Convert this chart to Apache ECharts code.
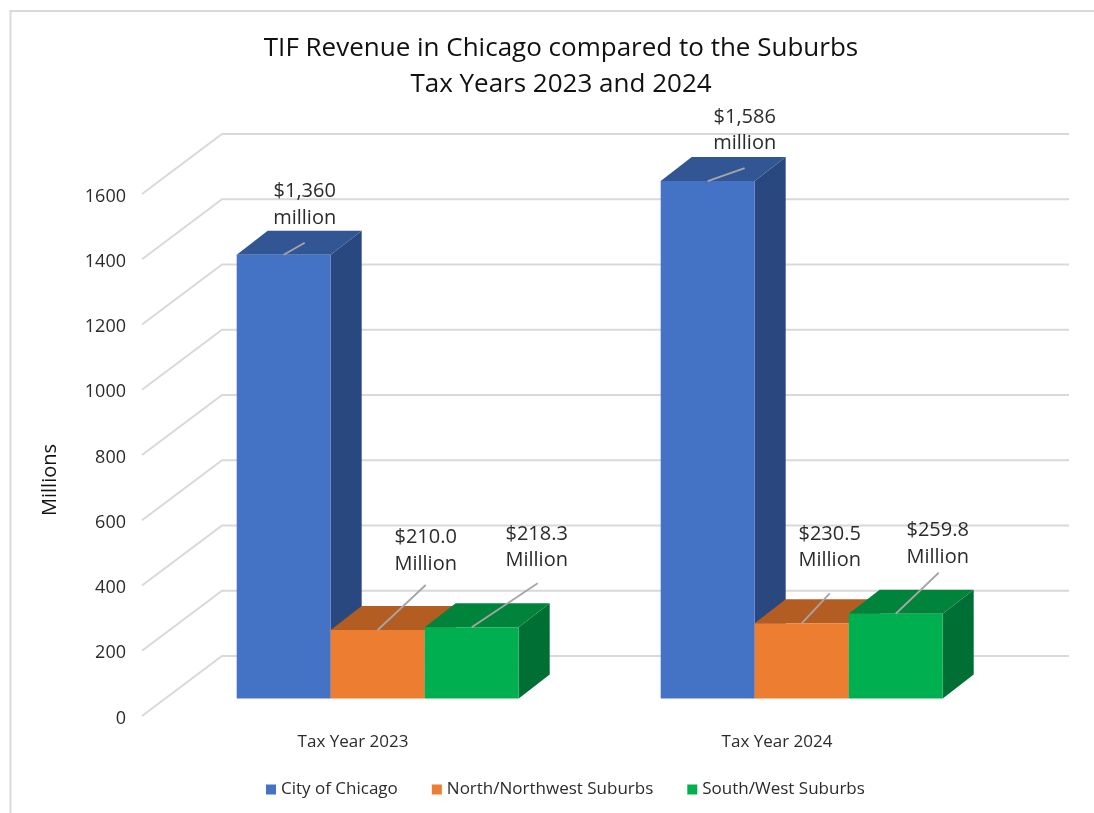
<!DOCTYPE html>
<html>
<head>
<meta charset="utf-8">
<style>html,body{margin:0;padding:0;background:#fff}#c{width:1094px;height:813px}</style>
<script src="https://cdn.jsdelivr.net/npm/echarts@6/dist/echarts.min.js"></script>
</head>
<body>
<div id="c"></div>
<script>
// ---- data ----
const categories = ['Tax Year 2023', 'Tax Year 2024'];
const seriesNames = ['City of Chicago', 'North/Northwest Suburbs', 'South/West Suburbs'];
const chicago = [1360, 1586];
const north = [210.0, 230.5];
const south = [218.3, 259.8];
const chicagoLabels = ['$1,360\nmillion', '$1,586\nmillion'];
const northLabels = ['$210.0\nMillion', '$230.5\nMillion'];
const southLabels = ['$218.3\nMillion', '$259.8\nMillion'];
const yTicks = [0, 200, 400, 600, 800, 1000, 1200, 1400, 1600];

// ---- layout and styles ----
const FONT = '"Open Sans","Noto Sans",sans-serif';
const WALL = {dx: 80, dy: -60};      // back wall relative to the front plane
const FLOOR = {dx: 24.7, dy: -17.5}; // bar front face relative to the front plane
const DEPTH = {dx: 31, dy: -24};     // bar depth
const BAR_SHARE = 94 / 424;          // one bar as share of the category band
const palettes = [
  {front: '#4472C4', top: '#325694', side: '#2A4880'},
  {front: '#ED7D31', top: '#B45D22', side: '#A9561E'},
  {front: '#00B050', top: '#00843C', side: '#006F33'}
];
// leader end relative to bar top centre; label centre relative to leader end
const leaders = [
  [[[21, -12], [0, -38]], [[37, -13], [0, -38]]],
  [[[48, -45], [0, -34]], [[28, -30], [0, -46]]],
  [[[66, -44], [-1, -36]], [[43, -41], [-1, -29]]]
];

function barSeries(idx, values, labels) {
  const pal = palettes[idx];
  return {
    name: seriesNames[idx],
    type: 'custom',
    itemStyle: {color: pal.front},
    data: values.map((v, i) => [i, v]),
    encode: {x: 0, y: 1},
    z: 3,
    renderItem(params, api) {
      const cat = api.value(0), val = api.value(1);
      const band = api.size([1, 0])[0];
      const w = band * BAR_SHARE;
      const base = api.coord([cat, 0]);
      const tip = api.coord([cat, val]);
      const l = base[0] + FLOOR.dx + (idx - 1.5) * w;
      const r = l + w;
      const b = base[1] + FLOOR.dy;
      const t = tip[1] + FLOOR.dy;
      const cx = (l + r) / 2;
      const lead = leaders[idx][cat];
      const ex = cx + lead[0][0], ey = t + lead[0][1];
      return {
        type: 'group',
        children: [
          {type: 'polygon', shape: {points: [[r, t], [r + DEPTH.dx, t + DEPTH.dy], [r + DEPTH.dx, b + DEPTH.dy], [r, b]]},
            style: {fill: pal.side}},
          {type: 'polygon', shape: {points: [[l, t], [l + DEPTH.dx, t + DEPTH.dy], [r + DEPTH.dx, t + DEPTH.dy], [r, t]]},
            style: {fill: pal.top}},
          {type: 'rect', shape: {x: l, y: t, width: w, height: b - t}, style: {fill: pal.front}},
          {type: 'line', shape: {x1: cx, y1: t, x2: ex, y2: ey},
            style: {stroke: '#A6A6A6', lineWidth: 1.8}, z2: 10},
          {type: 'text', z2: 11, style: {
            text: labels[cat], x: ex + lead[1][0], y: ey + lead[1][1],
            align: 'center', verticalAlign: 'middle',
            font: '20px ' + FONT, lineHeight: 26.5, fill: '#2B2B2B'}}
        ]
      };
    }
  };
}

const wallSeries = {
  type: 'custom',
  silent: true,
  z: 1,
  data: yTicks.map(v => [0, v]),
  encode: {x: 0, y: 1},
  renderItem(params, api) {
    const sys = params.coordSys;
    const y = api.coord([0, api.value(1)])[1];
    return {
      type: 'polyline',
      shape: {points: [[sys.x + 1, y], [sys.x + WALL.dx + 1, y + WALL.dy], [sys.x + sys.width + WALL.dx, y + WALL.dy]]},
      style: {stroke: '#D9D9D9', lineWidth: 2, fill: null}
    };
  }
};

const chart = echarts.init(document.getElementById('c'), null, {renderer: 'canvas'});
chart.setOption({
  backgroundColor: '#fff',
  animation: false,
  title: {
    text: 'TIF Revenue in Chicago compared to the Suburbs\nTax Years 2023 and 2024',
    left: 556, top: 26, textAlign: 'center',
    textStyle: {fontFamily: FONT, fontSize: 26, fontWeight: 'normal', color: '#111', lineHeight: 35.5}
  },
  legend: {
    data: seriesNames,
    left: 261, top: 776,
    icon: 'rect', itemWidth: 10, itemHeight: 10, itemGap: 34,
    textStyle: {fontFamily: FONT, fontSize: 17, color: '#2B2B2B'}
  },
  grid: {left: 141, width: 848, top: 194, height: 522, containLabel: false},
  xAxis: {
    type: 'category', data: categories,
    axisLine: {show: false}, axisTick: {show: false}, splitLine: {show: false},
    axisLabel: {fontFamily: FONT, fontSize: 17, color: '#2B2B2B', margin: 18}
  },
  yAxis: {
    type: 'value', min: 0, max: 1600, interval: 200,
    name: 'Millions', nameLocation: 'middle', nameRotate: 90, nameGap: 81,
    nameTextStyle: {fontFamily: FONT, fontSize: 20, color: '#111', padding: [0, 50, 0, 0]},
    axisLine: {show: false}, axisTick: {show: false}, splitLine: {show: false},
    axisLabel: {fontFamily: FONT, fontSize: 18, color: '#2B2B2B', margin: 15, verticalAlign: 'top', lineHeight: 5, formatter: String}
  },
  graphic: [{
    type: 'polyline', silent: true,
    shape: {points: [[10.5, 813], [10.5, 11], [1094, 11]]},
    style: {stroke: '#D9D9D9', lineWidth: 2, fill: null}
  }],
  series: [
    wallSeries,
    barSeries(0, chicago, chicagoLabels),
    barSeries(1, north, northLabels),
    barSeries(2, south, southLabels)
  ]
});
</script>
</body>
</html>
